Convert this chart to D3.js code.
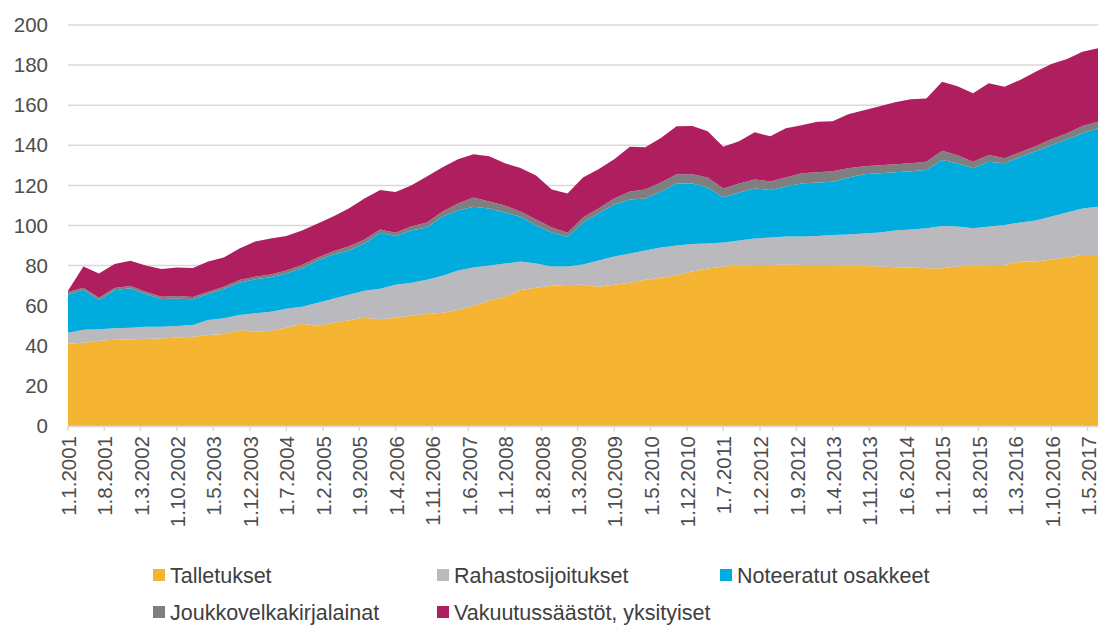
<!DOCTYPE html>
<html>
<head>
<meta charset="utf-8">
<script src="https://cdnjs.cloudflare.com/ajax/libs/d3/7.8.5/d3.min.js"></script>
<style>
  body { margin: 0; background: #fff; }
  #chart-container { width: 1099px; height: 627px; }
  .axis-text { font-family: "Liberation Sans", Arial, sans-serif; fill: #4d4d4d; }
  .legend-text { font-family: "Liberation Sans", Arial, sans-serif; fill: #404040; }
</style>
</head>
<body>
<div id="chart-container"></div>
<script>
//data: quarterly, 1.1.2001 - 1.7.2017
var firstDate = new Date(2001, 0, 1),
    stepMonths = 3;

var talletukset = [41,41.5,42.5,43,43.2,43.5,43.7,44.2,44.5,45.4,
    45.9,47.9,47,47.5,49,51,50,51.5,52.8,54,
    53.2,54,55,55.8,56.5,57.8,60,62.5,64.5,67.8,
    69,70,70.3,70.5,69.5,70.5,71.5,73,74,75.2,
    77,78.5,79.5,80,80.3,80.3,80.5,80.3,80.3,80.3,
    80,79.8,79.5,79.2,79,78.7,78.7,79.5,80,80.3,
    80.3,82,82,83,84,85.3,85.3];

var rahastosijoitukset = [5.5,6.5,5.7,5.7,5.8,6,5.8,5.7,5.9,7.5,
    7.8,7.5,9.2,9.5,9.5,8.5,11.5,12,12.7,13.5,
    15.3,16.5,16.5,17.2,18.5,19.7,19,17.5,16.5,14.2,
    12,9.5,9.2,10,13,14,14.5,14.5,15,14.8,
    13.8,12.5,12,12.5,13.2,13.7,14,14.2,14.5,14.9,
    15.5,16.2,17,18.3,19,19.9,21.1,20,18.6,19.2,
    19.9,19.5,20.5,21.5,22.5,23.2,24.1];

var noteeratut = [19,20,14.8,19,19.7,16.2,13.8,13.6,12.8,12.9,
    14.6,16.1,17,17.2,17.5,19.2,21,22,22,23.5,
    27.9,24.3,26,26,29.5,30,30.4,28.5,25.5,22.4,
    19,17,14.9,21,23.5,26,27,26,28,31,
    30.2,28,22.5,24,25,23.7,25,26.5,26.7,26.6,
    28.5,29.5,29.5,29,29,29.1,32.9,31.5,29.9,32.3,
    30.8,32.5,34.5,35.5,36.5,37.5,39.1];

var joukkovelkakirjat = [1.3,1,1,1.1,1.1,1.3,1.2,1.3,1.1,1.2,
    1.2,1.3,1.3,1.3,1.5,1.6,1.5,1.7,2,2,
    1.6,1.6,2,2.5,2.5,3.5,4.6,3.5,3.5,2.6,
    3,2.5,2,2.5,2.5,3,4,4.5,4.5,4.5,
    4.5,5,4.5,4.5,4.5,4.3,4.5,5,5,5.2,
    4.5,4,4,4,4,4.1,4.6,4,3.3,3.4,
    2.5,2.5,2.5,3,3,3.6,3.3];

var vakuutus = [0.7,10.5,12,12,12.6,13,13.8,14.2,14.5,15,
    14.5,15.7,17.5,18,17.3,17.2,17,17.3,19,20.5,
    19.7,20.3,20.5,23,22,22,21.5,22.5,21,21.7,
    22,19,19.6,20,19.5,19.5,22.3,21,22.1,24,
    24.1,23,20.8,21,23.5,22.5,24.5,24,25.3,25,
    27,28,29.5,31,32,31.6,34.4,34.5,34.1,35.7,
    35.7,36.1,37.2,37.5,37,37.1,36.6];

var seriesNames = ['Talletukset', 'Rahastosijoitukset', 'Noteeratut osakkeet',
    'Joukkovelkakirjalainat', 'Vakuutussäästöt, yksityiset'];
var seriesColors = ['#F5B431', '#B9B9BE', '#00ABDD', '#7F7F7F', '#AF1F60'];

//axis ticks
var yTicks = [0, 20, 40, 60, 80, 100, 120, 140, 160, 180, 200];
var xTickCount = 29,
    xTickStepMonths = 7;

//containers
var container = d3.select('#chart-container'),
    svg,
    g;

//sizes
var outerW = 1099,
    outerH = 627,
    margin = {left: 68, right: 1, top: 25, bottom: 201},
    w = outerW - margin.left - margin.right,
    h = outerH - margin.top - margin.bottom;

var xScale, yScale;

function buildChart() {
    var fmt = d3.timeFormat('%-d.%-m.%Y');

    var rows = talletukset.map(function(d, i) {
        return {
            date: d3.timeMonth.offset(firstDate, i * stepMonths),
            s0: talletukset[i],
            s1: rahastosijoitukset[i],
            s2: noteeratut[i],
            s3: joukkovelkakirjat[i],
            s4: vakuutus[i]
        };
    });

    xScale = d3.scaleTime()
        .domain(d3.extent(rows, function(d) { return d.date; }))
        .range([0, w]);
    yScale = d3.scaleLinear().domain([0, 200]).range([h, 0]);

    svg = container.append('svg')
        .attr('width', outerW)
        .attr('height', outerH);

    g = svg.append('g')
        .attr('transform', 'translate(' + margin.left + ',' + margin.top + ')');

    //gridlines
    g.selectAll('.grid')
        .data(yTicks.slice(1))
        .enter()
        .append('line')
        .attr('class', 'grid')
        .attr('x1', 0)
        .attr('x2', w)
        .attr('y1', function(d) { return yScale(d); })
        .attr('y2', function(d) { return yScale(d); })
        .attr('stroke', '#d9d9d9')
        .attr('stroke-width', 1.5);

    var stack = d3.stack().keys(['s0', 's1', 's2', 's3', 's4']);
    var layers = stack(rows);

    var area = d3.area()
        .x(function(d) { return xScale(d.data.date); })
        .y0(function(d) { return yScale(d[0]); })
        .y1(function(d) { return yScale(d[1]); });

    g.selectAll('.layer')
        .data(layers)
        .enter()
        .append('path')
        .attr('class', 'layer')
        .attr('d', area)
        .attr('fill', function(d, i) { return seriesColors[i]; });

    //x axis
    var xTicks = d3.range(xTickCount).map(function(i) {
        return d3.timeMonth.offset(firstDate, i * xTickStepMonths);
    });

    g.append('line')
        .attr('x1', 0).attr('x2', w)
        .attr('y1', h + 0.5).attr('y2', h + 0.5)
        .attr('stroke', '#d9d9d9')
        .attr('stroke-width', 1.5);

    var xTickG = g.selectAll('.x-tick')
        .data(xTicks)
        .enter()
        .append('g')
        .attr('class', 'x-tick')
        .attr('transform', function(d) { return 'translate(' + xScale(d) + ',' + h + ')'; });

    xTickG.append('line')
        .attr('y1', 0).attr('y2', 5)
        .attr('stroke', '#d9d9d9')
        .attr('stroke-width', 1.5);

    xTickG.append('text')
        .attr('class', 'axis-text')
        .attr('transform', 'translate(1,10) rotate(-90)')
        .attr('text-anchor', 'end')
        .attr('dy', '0.35em')
        .style('font-size', '20.5px')
        .text(function(d) { return fmt(d); });

    //y axis labels
    g.selectAll('.y-label')
        .data(yTicks)
        .enter()
        .append('text')
        .attr('class', 'axis-text y-label')
        .attr('x', -20)
        .attr('y', function(d) { return yScale(d); })
        .attr('dy', '0.35em')
        .attr('text-anchor', 'end')
        .style('font-size', '20.5px')
        .text(function(d) { return d; });

    //legend
    var legendPos = [[153, 575], [437, 575], [720, 575], [153, 612], [437, 612]];

    var legendG = svg.selectAll('.legend-item')
        .data(seriesNames)
        .enter()
        .append('g')
        .attr('class', 'legend-item')
        .attr('transform', function(d, i) { return 'translate(' + legendPos[i][0] + ',' + legendPos[i][1] + ')'; });

    legendG.append('rect')
        .attr('x', 0)
        .attr('y', -6)
        .attr('width', 12)
        .attr('height', 12)
        .attr('fill', function(d, i) { return seriesColors[i]; });

    legendG.append('text')
        .attr('class', 'legend-text')
        .attr('x', 17)
        .attr('y', 0)
        .attr('dy', '0.35em')
        .style('font-size', '21.5px')
        .text(function(d) { return d; });
}

buildChart();
</script>
</body>
</html>
